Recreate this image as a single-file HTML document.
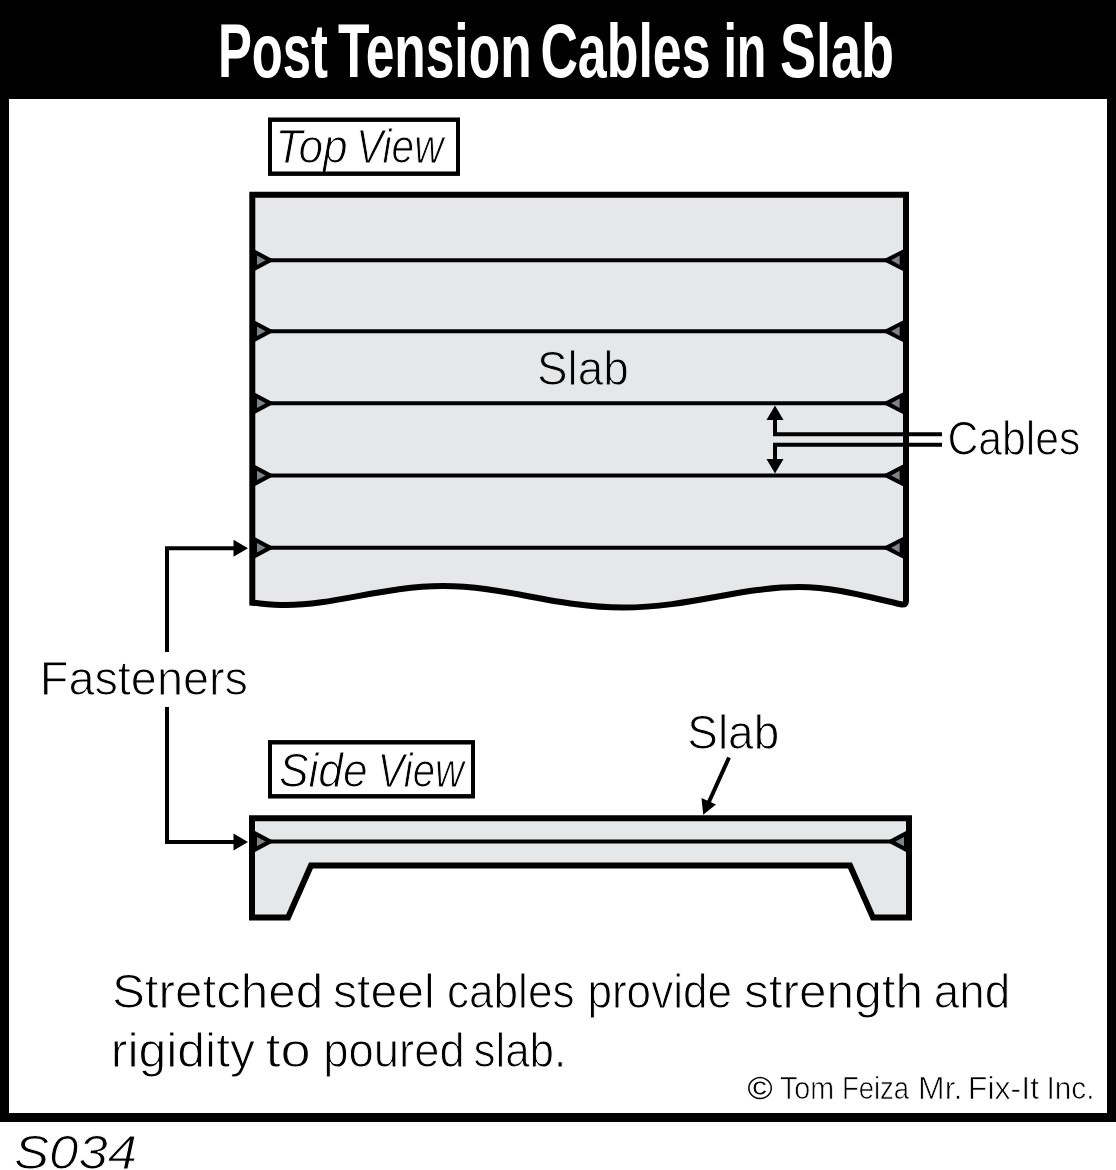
<!DOCTYPE html>
<html lang="en">
<head>
<meta charset="utf-8">
<title>Post Tension Cables in Slab</title>
<style>
html,body{margin:0;padding:0;background:#fff;}
body{width:1116px;height:1170px;overflow:hidden;}
svg{display:block;will-change:transform;}
text{font-family:"Liberation Sans",sans-serif;}
</style>
</head>
<body>
<svg width="1116" height="1170" viewBox="0 0 1116 1170">
<rect x="0" y="0" width="1116" height="1170" fill="#fff"/>
<!-- frame -->
<rect x="0" y="0" width="1116" height="1122" fill="#000"/>
<rect x="9" y="99" width="1098" height="1014" fill="#fff"/>

<!-- Top view label -->
<rect x="270" y="119.7" width="188" height="54" fill="#fff" stroke="#000" stroke-width="4"/>

<!-- Top view slab -->
<path d="M252.3,194.7 L906,194.7 L906,601 Q906,605 902,604.5 C868,597 835,587 799,587 C740,587 690,607.5 623,607.5 C556,607.5 505,586 443,586 C385,586 335,605 286,605 C272,605 262,603.5 252.3,602.7 Z" fill="#e6e7e8" stroke="#000" stroke-width="6" stroke-linejoin="miter"/>
<g stroke="#000" stroke-width="4" fill="none">
<line x1="255" y1="260.3" x2="904" y2="260.3"/>
<line x1="255" y1="331.3" x2="904" y2="331.3"/>
<line x1="255" y1="403.3" x2="904" y2="403.3"/>
<line x1="255" y1="475.4" x2="904" y2="475.4"/>
<line x1="255" y1="547.8" x2="904" y2="547.8"/>
</g>
<!-- fasteners top view -->
<g fill="#000">
<path d="M254,249.3 L274.6,260.3 L254,271.3 Z"/>
<path d="M905,248.5 L881.9,260.3 L905,272.1 Z"/>
<path d="M254,320.3 L274.6,331.3 L254,342.3 Z"/>
<path d="M905,319.5 L881.9,331.3 L905,343.1 Z"/>
<path d="M254,392.3 L274.6,403.3 L254,414.3 Z"/>
<path d="M905,391.5 L881.9,403.3 L905,415.1 Z"/>
<path d="M254,464.4 L274.6,475.4 L254,486.4 Z"/>
<path d="M905,463.6 L881.9,475.4 L905,487.2 Z"/>
<path d="M254,536.8 L274.6,547.8 L254,558.8 Z"/>
<path d="M905,536.0 L881.9,547.8 L905,559.6 Z"/>
</g>
<g fill="#808285">
<path d="M257,255.6 L265.6,260.3 L257,265.0 Z"/>
<path d="M899.6,255.6 L891.2,260.3 L899.6,265.0 Z"/>
<path d="M257,326.6 L265.6,331.3 L257,336.0 Z"/>
<path d="M899.6,326.6 L891.2,331.3 L899.6,336.0 Z"/>
<path d="M257,398.6 L265.6,403.3 L257,408.0 Z"/>
<path d="M899.6,398.6 L891.2,403.3 L899.6,408.0 Z"/>
<path d="M257,470.7 L265.6,475.4 L257,480.1 Z"/>
<path d="M899.6,470.7 L891.2,475.4 L899.6,480.1 Z"/>
<path d="M257,543.1 L265.6,547.8 L257,552.5 Z"/>
<path d="M899.6,543.1 L891.2,547.8 L899.6,552.5 Z"/>
</g>

<!-- Cables callout -->
<g stroke="#000" stroke-width="4" fill="none">
<path d="M775,418 L775,434.2 L942,434.2"/>
<path d="M775,461 L775,444.8 L942,444.8"/>
</g>
<path d="M775,405.5 L783.5,420 L766.5,420 Z" fill="#000"/>
<path d="M775,473.5 L783.5,459 L766.5,459 Z" fill="#000"/>

<!-- Fasteners callout -->
<g stroke="#000" stroke-width="4" fill="none">
<path d="M167,652 L167,548.3 L234,548.3"/>
<path d="M167,707 L167,842 L234,842"/>
</g>
<path d="M248,548.3 L233.5,539.8 L233.5,556.8 Z" fill="#000"/>
<path d="M248,842 L233.5,833.5 L233.5,850.5 Z" fill="#000"/>

<!-- Side view label -->
<rect x="270" y="742.3" width="203" height="54" fill="#fff" stroke="#000" stroke-width="4"/>

<!-- Side view slab -->
<path d="M252,818.3 L909,818.3 L909,917.6 L873,917.6 L850,865.5 L311,865.5 L288,917.6 L252,917.6 Z" fill="#e6e7e8" stroke="#000" stroke-width="6" stroke-linejoin="miter"/>
<line x1="255" y1="841.6" x2="906" y2="841.6" stroke="#000" stroke-width="4"/>
<g fill="#000">
<path d="M254,830.6 L274.6,841.6 L254,852.6 Z"/>
<path d="M907,830.6 L886.4,841.6 L907,852.6 Z"/>
</g>
<g fill="#808285">
<path d="M257,836.9 L265.6,841.6 L257,846.3 Z"/>
<path d="M904,836.9 L895.4,841.6 L904,846.3 Z"/>
</g>

<line x1="729" y1="757.5" x2="708" y2="804" stroke="#000" stroke-width="4"/>
<path d="M703.2,814.8 L701.5,798 L716,804.5 Z" fill="#000"/>

<!-- caption -->
<text x="217.9" y="76.5" font-size="76" font-weight="bold" fill="#fff" textLength="110.1" lengthAdjust="spacingAndGlyphs">Post</text>
<text x="338.0" y="76.5" font-size="76" font-weight="bold" fill="#fff" textLength="193.6" lengthAdjust="spacingAndGlyphs">Tension</text>
<text x="540.4" y="76.5" font-size="76" font-weight="bold" fill="#fff" textLength="170.1" lengthAdjust="spacingAndGlyphs">Cables</text>
<text x="723.4" y="76.5" font-size="76" font-weight="bold" fill="#fff" textLength="43.0" lengthAdjust="spacingAndGlyphs">in</text>
<text x="779.9" y="76.5" font-size="76" font-weight="bold" fill="#fff" textLength="114.2" lengthAdjust="spacingAndGlyphs">Slab</text>
<text x="275.6" y="162.7" font-size="48" font-style="italic" fill="#000" stroke="#fff" stroke-width="1" textLength="72.1" lengthAdjust="spacingAndGlyphs">Top</text>
<text x="356.3" y="162.7" font-size="48" font-style="italic" fill="#000" stroke="#fff" stroke-width="1" textLength="87.1" lengthAdjust="spacingAndGlyphs">View</text>
<text x="536.9" y="384.5" font-size="48" fill="#000" stroke="#e6e7e8" stroke-width="1" textLength="91.8" lengthAdjust="spacingAndGlyphs">Slab</text>
<text x="947.4" y="455" font-size="48" fill="#000" stroke="#fff" stroke-width="1" textLength="133.1" lengthAdjust="spacingAndGlyphs">Cables</text>
<text x="39.8" y="694.8" font-size="48" fill="#000" stroke="#fff" stroke-width="1" textLength="208.2" lengthAdjust="spacingAndGlyphs">Fasteners</text>
<text x="278.9" y="786.5" font-size="48" font-style="italic" fill="#000" stroke="#fff" stroke-width="1" textLength="88.7" lengthAdjust="spacingAndGlyphs">Side</text>
<text x="377.8" y="786.5" font-size="48" font-style="italic" fill="#000" stroke="#fff" stroke-width="1" textLength="86.1" lengthAdjust="spacingAndGlyphs">View</text>
<text x="687.3" y="748.7" font-size="48" fill="#000" stroke="#fff" stroke-width="1" textLength="91.9" lengthAdjust="spacingAndGlyphs">Slab</text>
<text x="111.9" y="1007.5" font-size="48" fill="#000" stroke="#fff" stroke-width="1" textLength="211.3" lengthAdjust="spacingAndGlyphs">Stretched</text>
<text x="332.9" y="1007.5" font-size="48" fill="#000" stroke="#fff" stroke-width="1" textLength="101.8" lengthAdjust="spacingAndGlyphs">steel</text>
<text x="446.9" y="1007.5" font-size="48" fill="#000" stroke="#fff" stroke-width="1" textLength="127.7" lengthAdjust="spacingAndGlyphs">cables</text>
<text x="587.4" y="1007.5" font-size="48" fill="#000" stroke="#fff" stroke-width="1" textLength="144.7" lengthAdjust="spacingAndGlyphs">provide</text>
<text x="743.9" y="1007.5" font-size="48" fill="#000" stroke="#fff" stroke-width="1" textLength="179.2" lengthAdjust="spacingAndGlyphs">strength</text>
<text x="933.8" y="1007.5" font-size="48" fill="#000" stroke="#fff" stroke-width="1" textLength="76.5" lengthAdjust="spacingAndGlyphs">and</text>
<text x="110.8" y="1066.6" font-size="48" fill="#000" stroke="#fff" stroke-width="1" textLength="144.2" lengthAdjust="spacingAndGlyphs">rigidity</text>
<text x="265.4" y="1066.6" font-size="48" fill="#000" stroke="#fff" stroke-width="1" textLength="45.3" lengthAdjust="spacingAndGlyphs">to</text>
<text x="323.3" y="1066.6" font-size="48" fill="#000" stroke="#fff" stroke-width="1" textLength="141.4" lengthAdjust="spacingAndGlyphs">poured</text>
<text x="473.4" y="1066.6" font-size="48" fill="#000" stroke="#fff" stroke-width="1" textLength="92.9" lengthAdjust="spacingAndGlyphs">slab.</text>
<text x="747.5" y="1099.3" font-size="32" fill="#000" textLength="25.1" lengthAdjust="spacingAndGlyphs">©</text>
<text x="779.9" y="1099.3" font-size="32" fill="#000" stroke="#fff" stroke-width="0.7" textLength="54.2" lengthAdjust="spacingAndGlyphs">Tom</text>
<text x="841.9" y="1099.3" font-size="32" fill="#000" stroke="#fff" stroke-width="0.7" textLength="67.2" lengthAdjust="spacingAndGlyphs">Feiza</text>
<text x="918.1" y="1099.3" font-size="32" fill="#000" stroke="#fff" stroke-width="0.7" textLength="44.3" lengthAdjust="spacingAndGlyphs">Mr.</text>
<text x="967.8" y="1099.3" font-size="32" fill="#000" stroke="#fff" stroke-width="0.7" textLength="71.3" lengthAdjust="spacingAndGlyphs">Fix-It</text>
<text x="1046.5" y="1099.3" font-size="32" fill="#000" stroke="#fff" stroke-width="0.7" textLength="48.0" lengthAdjust="spacingAndGlyphs">Inc.</text>
<text x="13.9" y="1169" font-size="48" font-style="italic" fill="#000" stroke="#fff" stroke-width="1" textLength="123.2" lengthAdjust="spacingAndGlyphs">S034</text>
<rect x="270" y="119.7" width="188" height="54" fill="none" stroke="#000" stroke-width="4"/>
<rect x="270" y="742.3" width="203" height="54" fill="none" stroke="#000" stroke-width="4"/>
</svg>
</body>
</html>
